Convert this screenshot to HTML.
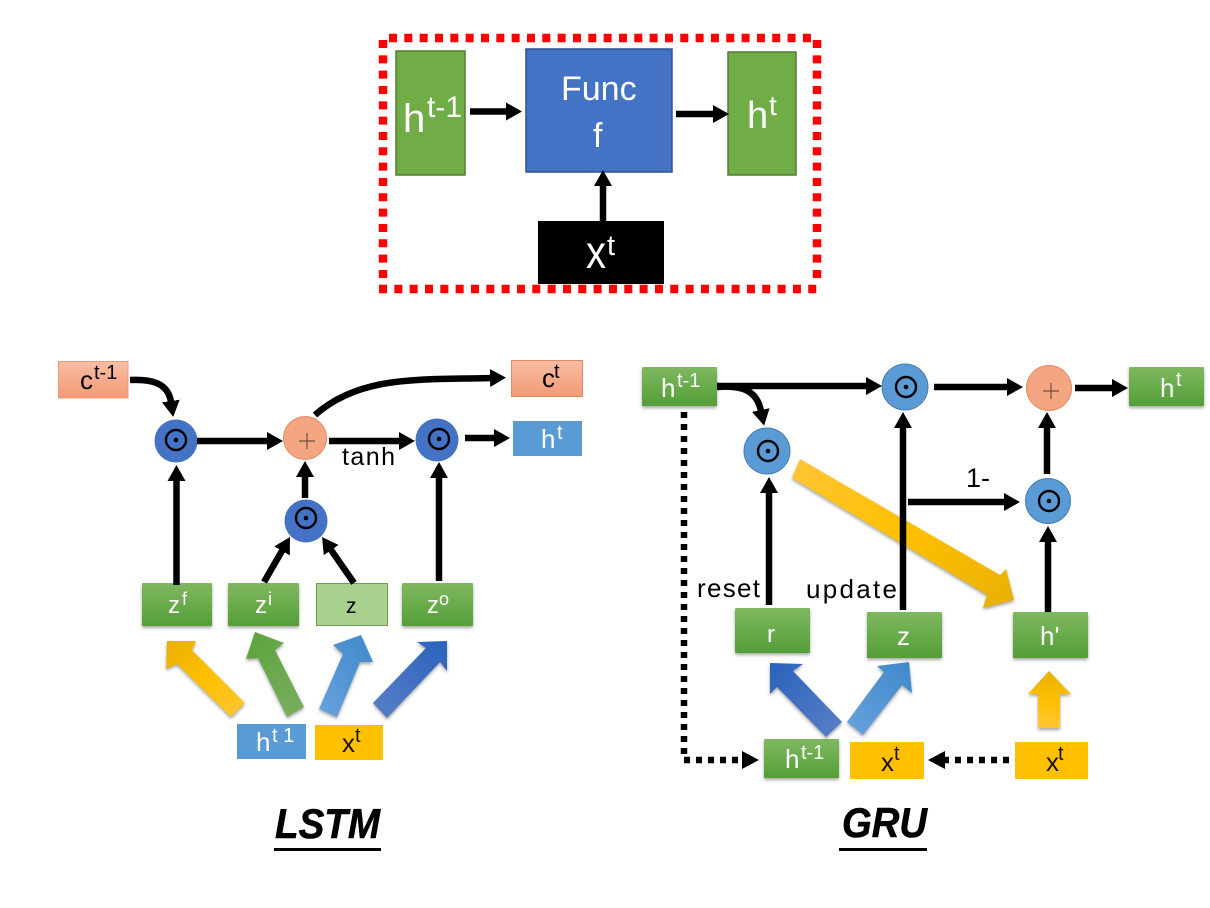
<!DOCTYPE html>
<html><head><meta charset="utf-8"><style>
html,body{margin:0;padding:0;background:#fff}
svg{display:block}
text{font-family:"Liberation Sans",sans-serif}
.w{fill:#fff}.k{fill:#000}
.s{filter:drop-shadow(0 2px 1.5px rgba(0,0,0,.35))}
.a{stroke:#000;stroke-width:6.5;fill:none;marker-end:url(#m)}
.d{stroke:#000;stroke-width:6.5;fill:none;stroke-dasharray:6 6}
.r{stroke:#f00;stroke-width:8.5;fill:none;stroke-dasharray:8 7.33}
</style></head><body>
<svg width="1210" height="908" viewBox="0 0 1210 908" xmlns="http://www.w3.org/2000/svg">
<defs>
<marker id="m" markerUnits="userSpaceOnUse" markerWidth="20" markerHeight="20" refX="1" refY="9" orient="auto"><path d="M0 0L16 9L0 18Z" fill="#000"/></marker>
<linearGradient id="g" x1="0" y1="0" x2="0" y2="1"><stop offset="0" stop-color="#7fb85f"/><stop offset="1" stop-color="#549e39"/></linearGradient>
<linearGradient id="sal" x1="0" y1="0" x2="0" y2="1"><stop offset="0" stop-color="#f8bea4"/><stop offset="1" stop-color="#f39a75"/></linearGradient>
<linearGradient id="yl" gradientUnits="objectBoundingBox" x1="1" y1="1" x2="0" y2="0"><stop offset="0" stop-color="#ffc537"/><stop offset=".5" stop-color="#ffc000"/><stop offset="1" stop-color="#e8b004"/></linearGradient>
<linearGradient id="yb" x1="0" y1="0" x2="1" y2="1"><stop offset="0" stop-color="#ffc537"/><stop offset=".5" stop-color="#ffc000"/><stop offset="1" stop-color="#e8b004"/></linearGradient>
<linearGradient id="yu" x1="0" y1="1" x2="0" y2="0"><stop offset="0" stop-color="#ffc537"/><stop offset=".5" stop-color="#ffc000"/><stop offset="1" stop-color="#e8b004"/></linearGradient>
<linearGradient id="gr" x1="1" y1="1" x2="0" y2="0"><stop offset="0" stop-color="#7cae62"/><stop offset="1" stop-color="#5aa33a"/></linearGradient>
<linearGradient id="lb" x1="0" y1="1" x2="1" y2="0"><stop offset="0" stop-color="#68a2dc"/><stop offset="1" stop-color="#3f88cb"/></linearGradient>
<linearGradient id="db" x1="0" y1="1" x2="1" y2="0"><stop offset="0" stop-color="#5a80c8"/><stop offset="1" stop-color="#2a62bb"/></linearGradient>
<linearGradient id="db2" x1="1" y1="1" x2="0" y2="0"><stop offset="0" stop-color="#5a80c8"/><stop offset="1" stop-color="#2a62bb"/></linearGradient>
<g id="dot"><circle r="10" fill="none" stroke="#000" stroke-width="2.4"/><circle r="2.3" fill="#000"/></g>
<g id="plus"><path d="M-8 0H8M0 -8V8" stroke="#6b5045" stroke-width="1.2" fill="none"/></g>
</defs>

<!-- Top panel -->
<path class="r" d="M389 38H813"/>
<path class="r" d="M817 40V280"/>
<path class="r" d="M383 40V280"/>
<path class="r" d="M379 289H821"/>
<rect x="396" y="51" width="69" height="124" fill="#70ad47" stroke="#507e32" stroke-width="1.5"/>
<rect x="526" y="49" width="146" height="123" fill="#4472c4" stroke="#2f528f" stroke-width="1.5"/>
<rect x="728" y="52" width="68" height="123" fill="#70ad47" stroke="#507e32" stroke-width="1.5"/>
<rect x="538" y="221" width="126" height="63" fill="#000"/>
<text x="561" y="100" font-size="34" class="w">Func</text>
<text x="593" y="147" font-size="34" class="w">f</text>
<text x="403" y="132" font-size="40" class="w">h</text>
<text x="427" y="117" font-size="30" class="w">t-1</text>
<text x="747" y="128" font-size="38" class="w">h</text>
<text x="769" y="115" font-size="28" class="w">t</text>
<text x="586" y="268" font-size="46" class="w" textLength="20" lengthAdjust="spacingAndGlyphs">x</text>
<text x="607" y="255" font-size="29" class="w">t</text>
<path class="a" d="M470 111.500H507"/>
<path class="a" d="M676 114H714"/>
<path class="a" d="M603 221V185"/>

<!-- LSTM -->
<rect x="58.500" y="361.500" width="69.500" height="36.500" fill="url(#sal)" stroke="#ed9a78"/>
<rect x="511.500" y="360.500" width="71" height="36" fill="url(#sal)" stroke="#dd8a64"/>
<rect x="513" y="421" width="69" height="35" fill="#5b9bd5"/>
<rect class="s" x="142" y="583" width="70" height="43" rx="1" fill="url(#g)"/>
<rect class="s" x="228" y="583" width="71" height="43" rx="1" fill="url(#g)"/>
<rect x="316.500" y="583.500" width="71" height="42" fill="#a9d18e" stroke="#6f9e52"/>
<rect class="s" x="402" y="583" width="71" height="43" rx="1" fill="url(#g)"/>
<rect x="237" y="724" width="69" height="35" fill="#5b9bd5"/>
<rect x="315" y="725" width="68" height="35" fill="#ffc000"/>

<circle cx="176" cy="441" r="21.500" fill="#4472c4"/><use href="#dot" x="176" y="440"/>
<circle cx="305" cy="438" r="21.500" fill="#f4a582" stroke="#e38a60"/><use href="#plus" x="307" y="441"/>
<circle cx="306" cy="521" r="21.500" fill="#4472c4"/><use href="#dot" x="306" y="518"/>
<circle cx="437" cy="440" r="21.500" fill="#4472c4"/><use href="#dot" x="439" y="439"/>

<path class="a" d="M130 380C150 379 168 382 171 402"/>
<path class="a" d="M197 441H268"/>
<path class="a" d="M176.500 585V480"/>
<path class="a" d="M305 498V476"/>
<path class="a" d="M264 582L282.500 550"/>
<path class="a" d="M354 583L330.600 549.300"/>
<path class="a" d="M329 441H400"/>
<path class="a" d="M439 581V477"/>
<path class="a" d="M465 438H495"/>
<path class="a" d="M315 415C360 375 420 380 491 378"/>

<text x="80" y="389" font-size="26" class="k">c</text><text x="94" y="379" font-size="20" class="k">t-1</text>
<text x="542" y="387" font-size="26" class="k">c</text><text x="554" y="378" font-size="20" class="k">t</text>
<text x="541" y="448" font-size="26" class="w">h</text><text x="557" y="439" font-size="20" class="w">t</text>
<text x="342" y="465" font-size="25" class="k" textLength="53">tanh</text>
<text x="168" y="613" font-size="24" class="w">z</text><text x="182" y="605" font-size="18" class="w">f</text>
<text x="255" y="613" font-size="24" class="w">z</text><text x="268" y="605" font-size="18" class="w">i</text>
<text x="346" y="613" font-size="21" class="k">z</text>
<text x="427" y="613" font-size="24" class="w">z</text><text x="439" y="605" font-size="18" class="w">o</text>
<text x="256" y="751" font-size="26" class="w">h</text><text x="272" y="742" font-size="20" class="w">t 1</text>
<text x="342" y="752" font-size="26" fill="#1a1000">x</text><text x="355" y="742" font-size="20" fill="#1a1000">t</text>

<g class="s">
<polygon fill="url(#yl)" points="167,641 196,641 192,650 245,703 231,717 177,664 166,669"/>
<polygon fill="url(#gr)" points="255,632 284,643 275,650 304,707 287,717 258,658 246,659"/>
<polygon fill="url(#lb)" points="361,635 373,662 360,662 337,717 319,709 343,654 333,645"/>
<polygon fill="url(#db)" points="447,641 447,671 440,662 387,718 373,703 426,648 417,642"/>
</g>
<text x="275" y="838" font-size="42" font-weight="bold" font-style="italic" class="k" stroke="#000" stroke-width=".6" textLength="105" lengthAdjust="spacingAndGlyphs">LSTM</text>
<rect x="274" y="848" width="107" height="3" fill="#000"/>

<!-- GRU -->
<rect class="s" x="642" y="367" width="75" height="39" rx="1" fill="url(#g)"/>
<rect class="s" x="1129" y="367" width="75" height="39" rx="1" fill="url(#g)"/>
<rect class="s" x="735" y="608" width="75" height="45" rx="1" fill="url(#g)"/>
<rect class="s" x="867" y="612" width="75" height="46" rx="1" fill="url(#g)"/>
<rect class="s" x="1013" y="612" width="75" height="46" rx="1" fill="url(#g)"/>
<rect class="s" x="764" y="739" width="75" height="39" rx="1" fill="url(#g)"/>
<rect x="850" y="742" width="74" height="37" fill="#ffc000"/>
<rect x="1015" y="742" width="73" height="37" fill="#ffc000"/>

<circle cx="905" cy="387" r="23" fill="#5b9bd5" stroke="#4a7db0"/><use href="#dot" x="906" y="387"/>
<circle cx="767" cy="451" r="23" fill="#5b9bd5" stroke="#4a7db0"/><use href="#dot" x="768" y="451"/>
<circle cx="1049" cy="388" r="22.500" fill="#f4a582" stroke="#e38a60"/><use href="#plus" x="1051" y="391"/>
<circle cx="1048" cy="501" r="22.500" fill="#5b9bd5" stroke="#4a7db0"/><use href="#dot" x="1049" y="501"/>

<polygon class="s" fill="url(#yb)" points="800,459 1000,575 1006,569 1014,600 983,608 987,595 792,478"/>
<polygon class="s" fill="url(#yu)" points="1049,671 1071,694 1060,694 1060,728 1038,728 1038,694 1028,694"/>
<polygon class="s" fill="url(#db2)" points="770,663 803,664 793,671 842,722 826,737 777,687 770,694"/>
<polygon class="s" fill="url(#lb)" points="909,662 912,693 902,685 863,735 847,722 884,672 877,666"/>

<path class="a" d="M717 386H867"/>
<path class="a" d="M717 387C745 385 757 392 761 411"/>
<path class="a" d="M769 605V492"/>
<path class="a" d="M903 610V427"/>
<path class="a" d="M934 387H1008"/>
<path class="a" d="M1075 388H1113"/>
<path class="a" d="M1047 474V427"/>
<path class="a" d="M1048 612V541"/>
<path class="a" d="M908 502H1005"/>
<path class="d" d="M684 412V760H745"/>
<path d="M742 751L759 760L742 769Z" fill="#000"/>
<path class="d" d="M1009 760H942"/>
<path d="M945 751L928 760L945 769Z" fill="#000"/>

<text x="661" y="397" font-size="26" class="w">h</text><text x="677" y="387" font-size="20" class="w">t-1</text>
<text x="1160" y="397" font-size="26" class="w">h</text><text x="1176" y="386" font-size="20" class="w">t</text>
<text x="767" y="642" font-size="24" class="w">r</text>
<text x="897" y="645" font-size="26" class="w">z</text>
<text x="1040" y="645" font-size="26" class="w">h'</text>
<text x="785" y="768" font-size="26" class="w">h</text><text x="801" y="759" font-size="20" class="w">t-1</text>
<text x="881" y="771" font-size="26" fill="#1a1000">x</text><text x="894" y="760" font-size="20" fill="#1a1000">t</text>
<text x="1046" y="771" font-size="26" fill="#1a1000">x</text><text x="1058" y="760" font-size="20" fill="#1a1000">t</text>
<text x="697" y="597" font-size="26" class="k" textLength="63">reset</text>
<text x="806" y="598" font-size="26" class="k" textLength="91">update</text>
<text x="966" y="487" font-size="27" class="k">1-</text>
<text x="842" y="837" font-size="42" font-weight="bold" font-style="italic" class="k" stroke="#000" stroke-width=".6" textLength="85" lengthAdjust="spacingAndGlyphs">GRU</text>
<rect x="839" y="848" width="88" height="3" fill="#000"/>
</svg>
</body></html>
